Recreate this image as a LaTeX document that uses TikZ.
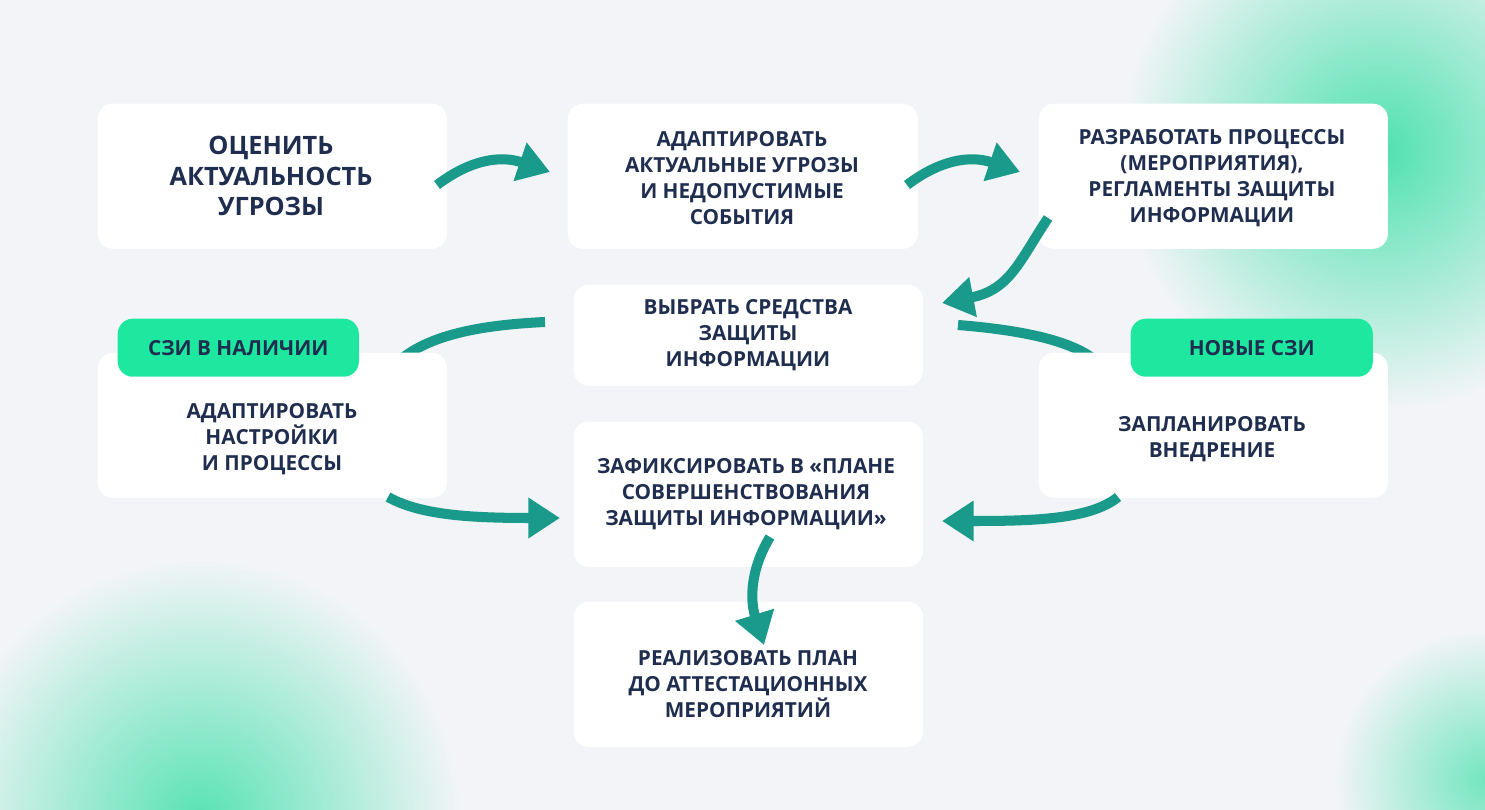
\documentclass[tikz,border=0pt]{standalone}
\usepackage{fontspec}
\setmainfont{Open Sans}
\usetikzlibrary{arrows.meta}
\definecolor{bg}{HTML}{F2F4F7}
\definecolor{txt}{HTML}{1F2D4E}
\definecolor{arr}{HTML}{1A9A8A}
\definecolor{tag}{HTML}{1EE8A0}
\definecolor{blob}{HTML}{3EE0A8}
\begin{document}
\begin{tikzpicture}[x=0.01cm,y=-0.01cm,
  box/.style={fill=white,rounded corners=4.3pt,draw=none,inner sep=0pt},
  lbl/.style={text=txt,font=\fontsize{5.9}{7.4}\selectfont\bfseries,align=center},
  tg/.style={fill=tag,rounded corners=4.3pt,inner sep=0pt,text=txt,font=\fontsize{5.9}{7}\selectfont\bfseries},
  ar/.style={arr,line width=2.85pt,-{Triangle[length=9pt,width=11pt]}},
  arn/.style={arr,line width=2.85pt}]
\fill[bg] (0,0) rectangle (1485,810);
\useasboundingbox (0,0) rectangle (1485,810);
\begin{scope}
\clip (0,0) rectangle (1485,810);
\shade[inner color=blob,outer color=bg,opacity=0.9] (1380,150) circle [radius=260];
\shade[inner color=blob,outer color=bg,opacity=0.85] (200,820) circle [radius=260];
\shade[inner color=blob,outer color=bg,opacity=0.7] (1485,780) circle [radius=150];
\end{scope}
% connectors behind boxes
\coordinate (a5s) at (545,322); \coordinate (a5e) at (400,360);
\coordinate (a6s) at (958,325); \coordinate (a6e) at (1095,360);
\draw[arn] (a5s) .. controls (480,325) and (430,335) .. (a5e);
\draw[arn] (a6s) .. controls (1020,330) and (1070,340) .. (a6e);
% boxes
\node[box,minimum width=3.49cm,minimum height=1.45cm,anchor=north west] (b1) at (97,103) {};
\node[box,minimum width=3.50cm,minimum height=1.45cm,anchor=north west] (b2) at (567,103) {};
\node[box,minimum width=3.49cm,minimum height=1.45cm,anchor=north west] (b3) at (1038,103) {};
\node[box,minimum width=3.49cm,minimum height=1.01cm,anchor=north west] (b4) at (573,284) {};
\node[box,minimum width=3.49cm,minimum height=1.45cm,anchor=north west] (b5) at (97,352) {};
\node[box,minimum width=3.49cm,minimum height=1.45cm,anchor=north west] (b6) at (1038,352) {};
\node[box,minimum width=3.49cm,minimum height=1.45cm,anchor=north west] (b7) at (573,421) {};
\node[box,minimum width=3.49cm,minimum height=1.45cm,anchor=north west] (b8) at (573,601) {};
\node[tg,minimum width=2.41cm,minimum height=0.58cm,anchor=north west] (t5) at (117,318) {СЗИ В НАЛИЧИИ};
\node[tg,minimum width=2.42cm,minimum height=0.58cm,anchor=north west] (t6) at (1130,318) {НОВЫЕ СЗИ};
% labels
\node[lbl,font=\fontsize{7.2}{8.6}\selectfont\bfseries] (l1) at (271,176) {ОЦЕНИТЬ\\АКТУАЛЬНОСТЬ\\УГРОЗЫ};
\node[lbl] (l2) at (742,178) {АДАПТИРОВАТЬ\\АКТУАЛЬНЫЕ УГРОЗЫ\\И НЕДОПУСТИМЫЕ\\СОБЫТИЯ};
\node[lbl] (l3) at (1212,178) {РАЗРАБОТАТЬ ПРОЦЕССЫ\\(МЕРОПРИЯТИЯ),\\РЕГЛАМЕНТЫ ЗАЩИТЫ\\ИНФОРМАЦИИ};
\node[lbl] (l4) at (748,335) {ВЫБРАТЬ СРЕДСТВА\\ЗАЩИТЫ\\ИНФОРМАЦИИ};
\node[lbl] (l5) at (272,439) {АДАПТИРОВАТЬ\\НАСТРОЙКИ\\И ПРОЦЕССЫ};
\node[lbl] (l6) at (1212,439) {ЗАПЛАНИРОВАТЬ\\ВНЕДРЕНИЕ};
\node[lbl] (l7) at (746,494) {ЗАФИКСИРОВАТЬ В «ПЛАНЕ\\СОВЕРШЕНСТВОВАНИЯ\\ЗАЩИТЫ ИНФОРМАЦИИ»};
\node[lbl] (l8) at (748,684) {РЕАЛИЗОВАТЬ ПЛАН\\ДО АТТЕСТАЦИОННЫХ\\МЕРОПРИЯТИЙ};
% connectors
\coordinate (p1) at (437,185); \coordinate (q1) at (550,172);
\coordinate (p2) at (907,185); \coordinate (q2) at (1020,172);
\coordinate (p3) at (1048,218); \coordinate (q3) at (942,303);
\coordinate (p5) at (388,497); \coordinate (q5) at (560,518);
\coordinate (p6) at (1118,497); \coordinate (q6) at (942,521);
\coordinate (p7) at (770,537); \coordinate (q7) at (764,645);
\draw[ar] (p1) .. controls (470,160) and (500,155) .. (q1);
\draw[ar] (p2) .. controls (940,160) and (970,155) .. (q2);
\draw[ar] (p3) .. controls (1020,260) and (1010,290) .. (q3);
\draw[ar] (p5) .. controls (420,515) and (470,518) .. (q5);
\draw[ar] (p6) .. controls (1090,520) and (1030,521) .. (q6);
\draw[ar] (p7) .. controls (750,570) and (750,600) .. (q7);
\end{tikzpicture}
\end{document}
